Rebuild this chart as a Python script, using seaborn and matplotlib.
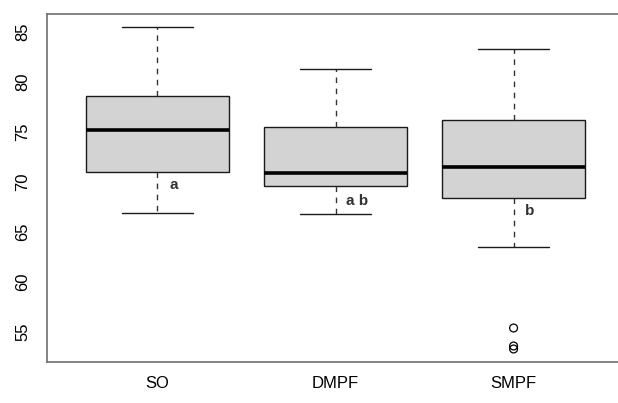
import numpy as np
import pandas as pd
import seaborn as sns
import matplotlib.pyplot as plt

# five-number summaries (min whisker, q1, median, q3, max whisker)
groups = ['SO', 'DMPF', 'SMPF']
lower_whisker = [66.9, 66.8, 63.5]
q1 = [71.0, 69.6, 68.4]
median = [75.2, 70.9, 71.5]
q3 = [78.6, 75.5, 76.2]
upper_whisker = [85.5, 81.3, 83.3]

# outliers (SMPF only)
outlier_group = ['SMPF', 'SMPF', 'SMPF']
outlier_value = [55.4, 53.6, 53.3]

# significance letters
letters = ['a', 'a b', 'b']
letter_y = [69.7, 68.1, 67.1]

rows = []
for g, lo, a, m, b, hi in zip(groups, lower_whisker, q1, median, q3, upper_whisker):
    for v in [lo, a, m, b, hi]:
        rows.append({'group': g, 'value': v})
df = pd.DataFrame(rows)
out_df = pd.DataFrame({'group': outlier_group, 'value': outlier_value})

sns.set_style('white')
plt.rcParams['font.family'] = ['Liberation Sans', 'DejaVu Sans']

fig = plt.figure(figsize=(6.18, 4.03), dpi=100)
ax = fig.add_axes([47 / 618, 41 / 403, 577 / 618, 348 / 403])

sns.boxplot(data=df, x='group', y='value', order=groups, ax=ax,
            color='#D3D3D3', linecolor='#1a1a1a', linewidth=1.0, width=0.8,
            saturation=1, whis=1.5, showfliers=False,
            whiskerprops={'linestyle': (0, (4, 4)), 'color': '#333333'},
            medianprops={'linewidth': 2.6, 'color': 'black'})

# R style caps: half the box width
for line in ax.lines:
    xd = np.asarray(line.get_xdata(), dtype=float)
    yd = np.asarray(line.get_ydata(), dtype=float)
    if len(xd) == 2 and yd[0] == yd[1]:
        mid = xd.mean()
        if yd[0] in lower_whisker or yd[0] in upper_whisker:
            line.set_xdata([mid - 0.2, mid + 0.2])

sns.scatterplot(data=out_df, x='group', y='value', ax=ax, marker='o', s=32,
                facecolor='none', edgecolor='black', linewidth=0.9, legend=False)

for i, (txt, yv) in enumerate(zip(letters, letter_y)):
    off = 0.09 if txt != 'a b' else 0.12
    ax.text(i + off, yv, txt, ha='center', va='center', fontsize=11,
            fontweight='bold', color='#333333')

ax.set_xlim(-0.62, 2.62)
ax.set_ylim(52.0, 86.8)
ax.set_yticks([55, 60, 65, 70, 75, 80, 85])
ax.set_xlabel('')
ax.set_ylabel('')
for s in ax.spines.values():
    s.set_color('#6e6e6e')
    s.set_linewidth(1.2)
ax.tick_params(axis='both', which='both', length=6, width=1, color='#6e6e6e',
               labelsize=12, labelcolor='black')
ax.tick_params(axis='x', pad=4)
ax.tick_params(axis='y', pad=6)
plt.setp(ax.get_yticklabels(), rotation=90, va='center')

fig.savefig('out.png', dpi=100)
